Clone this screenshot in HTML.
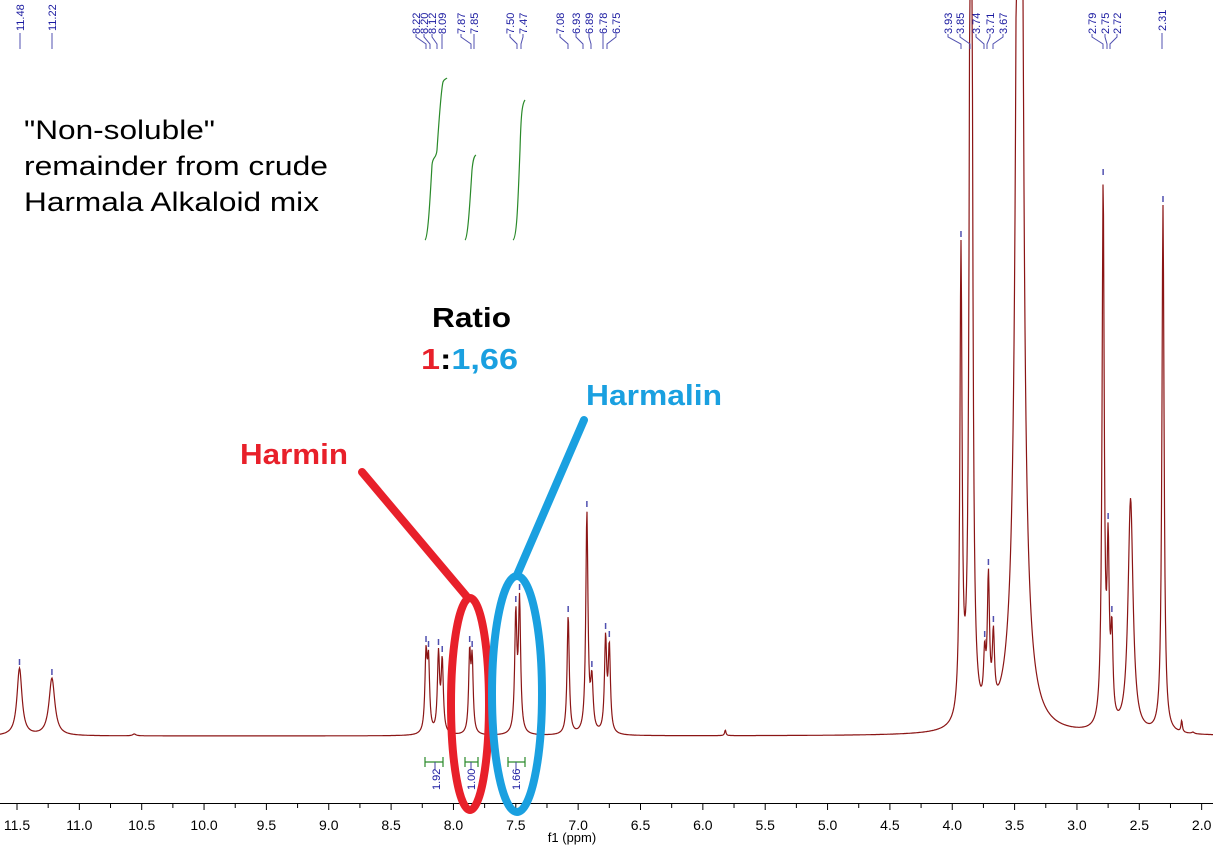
<!DOCTYPE html>
<html><head><meta charset="utf-8"><style>
body{margin:0;background:#fff;width:1213px;height:846px;overflow:hidden}
svg{display:block}
.pl{font-family:"Liberation Sans",sans-serif;font-size:11px;fill:#1a1aa0}
.ax{font-family:"Liberation Sans",sans-serif;font-size:14px;fill:#000}
</style></head><body>
<svg id="s" width="1213" height="846" viewBox="0 0 1213 846" xmlns="http://www.w3.org/2000/svg">
<g id="g"></g>
<g stroke="#2a8a2a" fill="none" stroke-width="1.2">
<path d="M425,240 C428,238 430,200 432,165 C433,155 436,160 437,150 C439,120 441,90 443,82 C444,79 446,79 447,78"/>
<path d="M465,240 C468,238 470,200 472,170 C473,160 474,156 476,155"/>
<path d="M513,240 C517,238 518,200 520,150 C521,115 522,104 525,100"/>
<path d="M425,762 H443 M425,757 V767 M443,757 V767 M465,762 H478 M465,757 V767 M478,757 V767 M508,762 H525 M508,757 V767 M525,757 V767"/>
</g>
<g stroke="#4040a0" stroke-width="1"><path d="M435,762 V770 M471,762 V770 M516,762 V770"/></g>
<text class="pl" transform="translate(440,790) rotate(-90)">1.92</text>
<text class="pl" transform="translate(475,790) rotate(-90)">1.00</text>
<text class="pl" transform="translate(520,790) rotate(-90)">1.66</text>
<line x1="0" y1="803.5" x2="1213" y2="803.5" stroke="#000" stroke-width="1"/>
<g id="ax"></g>
<text class="ax" x="572" y="842" text-anchor="middle" style="font-size:13px">f1 (ppm)</text>
<g font-family="Liberation Sans, sans-serif">
<text x="24" y="139" font-size="27" textLength="191" lengthAdjust="spacingAndGlyphs">"Non-soluble"</text>
<text x="24" y="175" font-size="27" textLength="304" lengthAdjust="spacingAndGlyphs">remainder from crude</text>
<text x="24" y="211" font-size="27" textLength="295" lengthAdjust="spacingAndGlyphs">Harmala Alkaloid mix</text>
<text x="432" y="327" font-size="28" font-weight="bold" textLength="79" lengthAdjust="spacingAndGlyphs">Ratio</text>
<text x="421" y="369" font-size="29" font-weight="bold" textLength="97" lengthAdjust="spacingAndGlyphs"><tspan fill="#e8202a">1</tspan><tspan fill="#000">:</tspan><tspan fill="#1aa0e0">1,66</tspan></text>
<text x="586" y="405" font-size="29" font-weight="bold" fill="#1aa0e0" textLength="136" lengthAdjust="spacingAndGlyphs">Harmalin</text>
<text x="240" y="464" font-size="29" font-weight="bold" fill="#e8202a" textLength="108" lengthAdjust="spacingAndGlyphs">Harmin</text>
</g>
<line x1="362" y1="472" x2="468" y2="598" stroke="#e8202a" stroke-width="8" stroke-linecap="round"/>
<ellipse cx="470" cy="704" rx="19" ry="106" fill="none" stroke="#e8202a" stroke-width="8"/>
<line x1="584" y1="420" x2="517" y2="575" stroke="#1aa0e0" stroke-width="8" stroke-linecap="round"/>
<ellipse cx="517" cy="694" rx="25" ry="118" fill="none" stroke="#1aa0e0" stroke-width="8"/>
<g id="lb"></g>
</svg>
<script>
var X=function(p){return 17+(11.5-p)*124.7};
var B=736;
var pk=[[11.48,668,3],[11.22,678,3.5],[10.56,734,2],[8.22,645,1.3],[8.20,650,1.3],[8.12,648,1.3],[8.09,655,1.3],[7.87,645,1.2],[7.85,650,1.2],[7.50,605,1.3],[7.47,593,1.3],[7.08,615,1.3],[6.93,510,1.3],[6.89,670,1.5],[6.78,632,1.3],[6.75,640,1.3],[5.82,730,0.8],
[3.93,240,1.3],[3.85,-1500,1.3],[3.74,640,1.3],[3.71,568,1.3],[3.67,625,1.3],[3.46,-2000,2.5],[3.46,0,10,1],[2.79,178,1.3],[2.75,522,1.3],[2.72,615,1.3],[2.57,498,3],[2.31,205,1.3],[2.16,720,0.8],[2.07,732,1.5]];
var n=pk.length,H=[];
for(var i=0;i<n;i++){H[i]=pk[i][1]<0?-pk[i][1]:(pk[i][3]?70:B-pk[i][1]);}
function f(x,skip){var y=0;for(var i=0;i<n;i++){if(i===skip)continue;var w=pk[i][2],dx=x-X(pk[i][0]);y+=H[i]*w*w/(dx*dx+w*w);}return y;}
for(var it=0;it<40;it++){for(var i=0;i<n;i++){if(pk[i][1]<=0||pk[i][3])continue;var t=B-pk[i][1];H[i]=Math.max(1,t-f(X(pk[i][0]),i));}}
var d="";
for(var x=0;x<=1213;x+=0.5){var y=f(x,-1);var yy=Math.max(-5,B-y);d+=(x?"L":"M")+x.toFixed(1)+","+yy.toFixed(1);}
var g=document.getElementById("g");
g.innerHTML='<path d="'+d+'" fill="none" stroke="#8b1515" stroke-width="1.2"/>';
var tm=[[11.48,668],[11.22,678],[8.22,645],[8.20,650],[8.12,648],[8.09,655],[7.87,645],[7.85,650],[7.50,605],[7.47,593],[7.08,615],[6.93,510],[6.89,670],[6.78,632],[6.75,640],[3.93,240],[3.74,640],[3.71,568],[3.67,625],[2.79,178],[2.75,522],[2.72,615],[2.31,205]];
var s="";tm.forEach(function(t){var x=X(t[0]);s+='<line x1="'+x+'" y1="'+(t[1]-9)+'" x2="'+x+'" y2="'+(t[1]-3)+'" stroke="#5050b0" stroke-width="1.5"/>';});
g.innerHTML+=s;
var a="";for(var p=11.75;p>=1.9;p-=0.25){var x=X(p),maj=Math.abs(p*2-Math.round(p*2))<0.01;a+='<line x1="'+x+'" y1="803" x2="'+x+'" y2="'+(maj?810:808)+'" stroke="#000"/>';if(maj&&p<=11.51&&p>=1.99)a+='<text class="ax" x="'+x+'" y="830" text-anchor="middle">'+p.toFixed(1)+'</text>';}
document.getElementById("ax").innerHTML=a;
var L=[["11.48",20,20,1],["11.22",52,52,1],["8.22",416,426],["8.20",424,430],["8.12",432,437],["8.09",442,442],["7.87",461,471],["7.85",474,474],["7.50",510,517],["7.47",523,521],["7.08",560,568],["6.93",576,583],["6.89",589,591],["6.78",603,603],["6.75",616,607],["3.93",948,961],["3.85",960,970],["3.74",976,984],["3.71",990,987],["3.67",1003,993],["2.79",1092,1103],["2.75",1105,1107],["2.72",1117,1110],["2.31",1162,1164,1]];
var h="";L.forEach(function(l){
 if(l[3]){h+='<text class="pl" transform="translate('+(l[1]+4)+',31) rotate(-90)">'+l[0]+'</text>';h+='<line x1="'+l[1]+'" y1="33" x2="'+l[1]+'" y2="49" stroke="#5050b0"/>';}
 else{h+='<text class="pl" transform="translate('+(l[1]+4)+',34) rotate(-90)">'+l[0]+'</text>';h+='<path d="M'+l[1]+',34 L'+l[1]+',37 L'+l[2]+',44 L'+l[2]+',49" fill="none" stroke="#5050b0" stroke-width="1"/>';}
});
document.getElementById("lb").innerHTML=h;
</script>
</body></html>
